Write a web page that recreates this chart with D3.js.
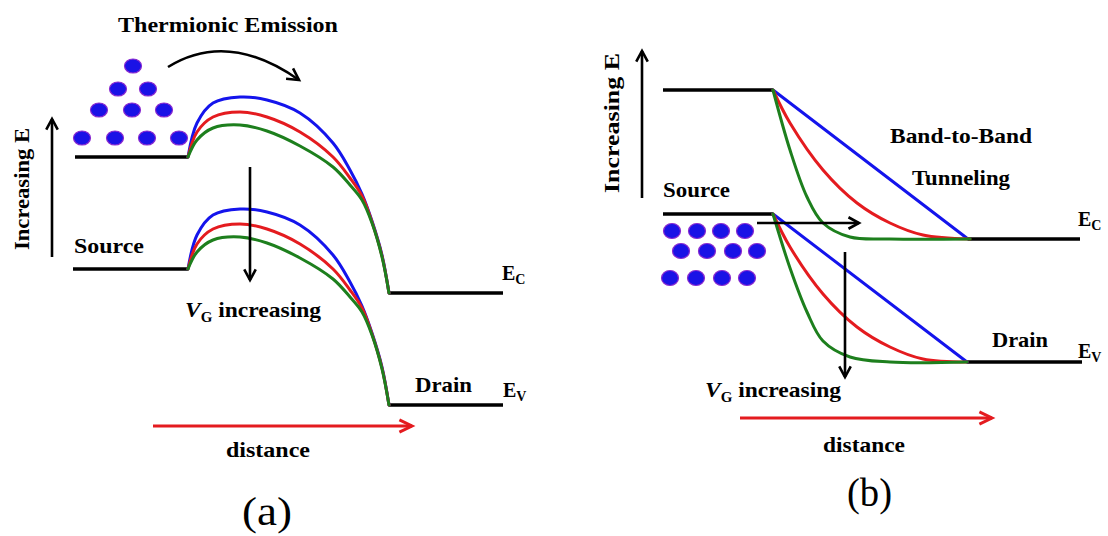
<!DOCTYPE html>
<html><head><meta charset="utf-8">
<script src="https://cdn.jsdelivr.net/npm/d3@7"></script>
<style>html,body{margin:0;padding:0;background:#fff;} svg{display:block;}</style>
</head><body>
<svg id="chart" width="1108" height="536"></svg>
<script>
// ---------- DATA (x: distance units, y: energy units) ----------
// Panel (a): thermionic emission
const aEcSource = [[0,49.6],[22.6,49.6]];
const aEvSource = [[-0.4,27.2],[22.6,27.2]];
const aEcDrain  = [[62.8,22.4],[85.6,22.4]];
const aEvDrain  = [[62.8,0],[85.6,0]];
const aEcBlue  = [[22.6,49.6],[24.4,56.4],[27.6,60.4],[33,61.6],[38.4,61],[45,58.4],[51.6,52.4],[55,47],[57.4,42.2],[59.4,36.8],[61.4,30],[62.8,22.4]];
const aEcRed   = [[22.6,49.6],[24.4,54.6],[27.6,57.6],[33,58.6],[38.4,57.6],[45,54.6],[51.6,49.6],[55,45.4],[57.4,41.8],[59.4,36.6],[61.4,29.8],[62.8,22.4]];
const aEcGreen = [[22.6,49.6],[24.4,53],[27.6,55.4],[33,56],[38.4,54.8],[45,51.8],[51.6,47.6],[55,44],[57.4,41],[59.4,36.4],[61.4,29.6],[62.8,22.4]];
const aEvBlue  = [[22.6,27.2],[24.4,34],[27.6,38],[33,39.2],[38.4,38.6],[45,36],[51.6,30],[55,24.6],[57.4,19.8],[59.4,14.4],[61.4,7.6],[62.8,0]];
const aEvRed   = [[22.6,27.2],[24.4,32.2],[27.6,35.2],[33,36.2],[38.4,35.2],[45,32.2],[51.6,27.2],[55,23],[57.4,19.4],[59.4,14.2],[61.4,7.4],[62.8,0]];
const aEvGreen = [[22.6,27.2],[24.4,30.6],[27.6,33],[33,33.6],[38.4,32.4],[45,29.4],[51.6,25.2],[55,21.6],[57.4,18.6],[59.4,14],[61.4,7.2],[62.8,0]];
const aDots = [[11.6,67.8],[8.6,63.2],[14.6,63.2],[4.8,59],[11.4,59],[17.8,59],[1.4,53.4],[8,53.4],[14.4,53.4],[20.8,53.4]];

// Panel (b): band-to-band tunneling
const bEcSource = [[0,54.4],[22,54.4]];
const bEvSource = [[0,29.6],[22,29.6]];
const bEcDrain  = [[61,24.6],[83.4,24.6]];
const bEvDrain  = [[60.8,0],[83.8,0]];
const bEcBlue  = [[22,54.4],[61,24.6]];
const bEcRed   = [[22,54.4],[25.4,47.8],[32,38.4],[38.8,31.8],[45.4,27.8],[52,25.4],[61.4,24.6]];
const bEcGreen = [[22,54.4],[25.4,42.4],[28.8,33],[32,27.8],[37.4,25],[45.4,24.6],[61.4,24.6]];
const bEvBlue  = [[22,29.6],[60.8,0]];
const bEvRed   = [[22,29.6],[25.4,23],[32,13.6],[38.8,7],[45.4,3],[52,0.6],[60.8,0]];
const bEvGreen = [[22,29.6],[25.4,18.8],[28.8,10],[32,4.2],[37.4,1],[45.4,0],[60.8,0]];
const bDots = [[1.8,26.2],[6.8,26.2],[11.6,26.2],[16.4,26.2],[3.6,22.2],[8.8,22.2],[14,22.2],[18.8,22.2],[1.4,16.8],[6.6,16.8],[11.8,16.8],[16.8,16.8]];

const BLUE = "#1414ec", RED = "#e41b1f", GREEN = "#1d7f1d", BLACK = "#000";
const SERIF = "'Liberation Serif','Times New Roman',serif";

// ---------- SCALES ----------
const xA = d3.scaleLinear().domain([0,85]).range([75,500]);
const yA = d3.scaleLinear().domain([0,50]).range([405,155]);
const xB = d3.scaleLinear().domain([0,85]).range([663,1088]);
const yB = d3.scaleLinear().domain([0,50]).range([362,112]);

const svg = d3.select("#chart");
svg.append("rect").attr("width",1108).attr("height",536).attr("fill","#fff");

function panel(xs, ys, levels, curves, dots, rx, ry) {
  const g = svg.append("g");
  const line = d3.line().x(d=>xs(d[0])).y(d=>ys(d[1])).curve(d3.curveCatmullRom.alpha(0.5));
  levels.forEach(l => g.append("path").attr("d", line(l)).attr("fill","none")
    .attr("stroke",BLACK).attr("stroke-width",3.5));
  curves.forEach(c => g.append("path").attr("d", line(c.pts)).attr("fill","none")
    .attr("stroke",c.color).attr("stroke-width",3).attr("stroke-linecap","round"));
  g.selectAll("ellipse.dot").data(dots).enter().append("ellipse")
    .attr("cx",d=>xs(d[0])).attr("cy",d=>ys(d[1])).attr("rx",rx).attr("ry",ry)
    .attr("fill","#1a12e6").attr("stroke","#8a2ad0").attr("stroke-width",1.2);
}

panel(xA, yA, [aEcSource,aEvSource,aEcDrain,aEvDrain],
  [{pts:aEcBlue,color:BLUE},{pts:aEcRed,color:RED},{pts:aEcGreen,color:GREEN},
   {pts:aEvBlue,color:BLUE},{pts:aEvRed,color:RED},{pts:aEvGreen,color:GREEN}], aDots, 8.5, 7);
panel(xB, yB, [bEcSource,bEvSource,bEcDrain,bEvDrain],
  [{pts:bEcBlue,color:BLUE},{pts:bEcRed,color:RED},{pts:bEcGreen,color:GREEN},
   {pts:bEvBlue,color:BLUE},{pts:bEvRed,color:RED},{pts:bEvGreen,color:GREEN}], bDots, 8.5, 7.5);

// ---------- ARROWS ----------
function head(x, y, ang, color, len, spread, w) {
  const a1 = ang + Math.PI - spread, a2 = ang + Math.PI + spread;
  svg.append("path")
    .attr("d", `M${x+len*Math.cos(a1)},${y+len*Math.sin(a1)}L${x},${y}L${x+len*Math.cos(a2)},${y+len*Math.sin(a2)}`)
    .attr("fill","none").attr("stroke",color).attr("stroke-width",w).attr("stroke-linejoin","miter");
}
function arrow(x1,y1,x2,y2,color,w,len,spread) {
  svg.append("line").attr("x1",x1).attr("y1",y1).attr("x2",x2).attr("y2",y2)
    .attr("stroke",color).attr("stroke-width",w);
  head(x2,y2,Math.atan2(y2-y1,x2-x1),color,len,spread,w);
}
// (a)
arrow(52,257,52,119,BLACK,2.6,12,0.5);
arrow(250,167,250,280,BLACK,2.6,12,0.5);
arrow(153,426,412,426,RED,3,14,0.45);
svg.append("path").attr("d","M168,67 Q228,30 299,80").attr("fill","none").attr("stroke",BLACK).attr("stroke-width",2.6);
head(299,80,Math.atan2(80-55,299-262),BLACK,13,0.5,2.6);
// (b)
arrow(642,198,642,51,BLACK,2.6,12,0.5);
arrow(845,252,845,377,BLACK,2.6,12,0.5);
arrow(757,223,859,223,BLACK,2.6,12,0.5);
arrow(740,418,992,418,RED,3,14,0.45);

// ---------- TEXT ----------
function label(x, y, str, size, len, opts={}) {
  const t = svg.append("text").attr("x",x).attr("y",y).text(str)
    .attr("font-family",SERIF).attr("font-size",size)
    .attr("font-weight",opts.weight||"bold").attr("fill","#000");
  if (len) t.attr("textLength",len).attr("lengthAdjust","spacingAndGlyphs");
  if (opts.anchor) t.attr("text-anchor",opts.anchor);
  if (opts.transform) t.attr("transform",opts.transform);
  return t;
}
function sub(x, y, main, s, size, subSize) {
  const t = svg.append("text").attr("x",x).attr("y",y)
    .attr("font-family",SERIF).attr("font-weight","bold").attr("fill","#000");
  t.append("tspan").attr("font-size",size).text(main);
  t.append("tspan").attr("font-size",subSize).attr("dy",4).text(s);
}
function vg(x, y) {
  const g = svg.append("g").attr("transform",`translate(${x},${y}) scale(1.07,1)`);
  const t = g.append("text").attr("x",0).attr("y",0)
    .attr("font-family",SERIF).attr("font-weight","bold").attr("fill","#000");
  t.append("tspan").attr("font-size",22).attr("font-style","italic").text("V");
  t.append("tspan").attr("font-size",14).attr("dy",5).text("G");
  t.append("tspan").attr("font-size",22).attr("dy",-5).text(" increasing");
}

// (a)
label(118,32,"Thermionic Emission",22,220);
label(0,0,"Increasing E",22,122,{transform:"translate(29,250) rotate(-90)"});
label(74,253,"Source",22,70);
vg(185,317);
label(415,392,"Drain",22,57);
sub(502,280,"E","C",20,14);
sub(503,397,"E","V",20,14);
label(226,457,"distance",22,84);
label(242,525,"(a)",40,50,{weight:"normal"});

// (b)
label(0,0,"Increasing E",22,140,{transform:"translate(619,193) rotate(-90)"});
label(663,197,"Source",22,67);
label(890,143,"Band-to-Band",22,142);
label(912,185,"Tunneling",22,98);
sub(1078,226,"E","C",20,14);
label(992,347,"Drain",22,56);
sub(1078,358,"E","V",20,14);
vg(705,397);
label(823,452,"distance",22,82);
label(847,506,"(b)",40,45,{weight:"normal"});
</script></body></html>
